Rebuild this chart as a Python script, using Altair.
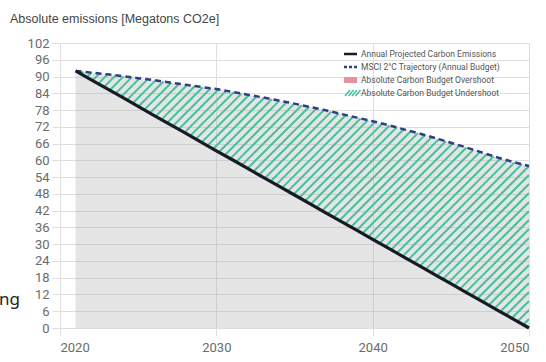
import altair as alt
import pandas as pd
import numpy as np

# ---- data ----
years = list(range(2021, 2051))
emissions = [92.0, 88.8, 85.7, 82.5, 79.3, 76.1, 73.0, 69.8, 66.6, 63.4,
             60.3, 57.1, 53.9, 50.8, 47.6, 44.4, 41.2, 38.1, 34.9, 31.7,
             28.6, 25.4, 22.2, 19.0, 15.9, 12.7, 9.5, 6.3, 3.2, 0.0]
budget = [92.0, 91.4, 90.8, 90.1, 89.4, 88.7, 87.9, 87.1, 86.3, 85.5,
          84.5, 83.5, 82.5, 81.4, 80.3, 79.1, 77.9, 76.6, 75.3, 74.0,
          72.6, 71.1, 69.6, 68.0, 66.3, 64.6, 62.8, 61.0, 59.4, 58.0]
y_ticks = list(range(0, 103, 6))
x_ticks = [2020, 2030, 2040, 2050]
legend_labels = ["Annual Projected Carbon Emissions",
                 "MSCI 2°C Trajectory (Annual Budget)",
                 "Absolute Carbon Budget Overshoot",
                 "Absolute Carbon Budget Undershoot"]
title_text = "Absolute emissions [Megatons CO2e]"
stray_text = "ng"

# ---- layout ----
W, H = 469, 285
PAD = {"left": 60, "top": 43, "right": 17, "bottom": 34}
XMIN, XMAX, YMIN, YMAX = 2020, 2050, 0, 102
px_per_year = W / (XMAX - XMIN)
px_per_unit = H / (YMAX - YMIN)

GREEN = "#43c29c"
NAVY = "#2f3f86"
BLACK = "#161b26"
PINK = "#e8909e"
GRID = "#dedede"
FONT = "Roboto"

df = pd.DataFrame({"year": years, "emissions": emissions, "budget": budget})

# ---- hatch lines (45 degrees in screen space) clipped between the curves ----
k = px_per_year / px_per_unit          # data units per year for 45 deg
spacing = 9.0 / px_per_year            # horizontal spacing of hatch lines (years)
xs = np.array(years, dtype=float)


def crossing(ys, c):
    ys = np.asarray(ys, dtype=float)
    g = k * (xs - c) - ys
    if g[0] > 0:
        return None, "above"
    if g[-1] < 0:
        return None, "below"
    for i in range(len(xs) - 1):
        if g[i] <= 0 <= g[i + 1]:
            t = 0 if g[i + 1] == g[i] else -g[i] / (g[i + 1] - g[i])
            return xs[i] + t * (xs[i + 1] - xs[i]), "ok"
    return None, "none"


hatch = []
c = 2050.0
while c > 2021 - 100 / k:
    xl, sl = crossing(emissions, c)
    xu, su = crossing(budget, c)
    if sl == "ok":
        if su == "below":
            xu = 2050.0
        if su in ("ok", "below") and xu > xl:
            hatch.append({"x": xl, "y": k * (xl - c), "x2": xu, "y2": k * (xu - c)})
    c -= spacing
hatch_df = pd.DataFrame(hatch)

xscale = alt.Scale(domain=[XMIN, XMAX], nice=False, zero=False)
yscale = alt.Scale(domain=[YMIN, YMAX], nice=False)

x_axis = alt.Axis(values=x_ticks, tickCount=len(x_ticks), format="d", title=None,
                  grid=True, gridColor=GRID, tickColor=GRID, tickSize=8,
                  domain=False, labelPadding=5, labelFont=FONT, labelOverlap=False,
                  labelFontSize=13, labelColor="#6b6b6b")
y_axis = alt.Axis(values=y_ticks, tickCount=len(y_ticks), title=None, grid=True,
                  gridColor=GRID, tickColor=GRID, tickSize=8, labelOverlap=False,
                  domain=False, labelPadding=3, labelFont=FONT,
                  labelFontSize=13, labelColor="#6b6b6b")

base = alt.Chart(df)

gray = base.mark_area(color="#a9a9a9", opacity=0.3, clip=True).encode(
    x=alt.X("year:Q", scale=xscale, axis=x_axis),
    y=alt.Y("budget:Q", scale=yscale, axis=y_axis),
    y2=alt.value(H),
)

hatch_layer = alt.Chart(hatch_df).mark_rule(color=GREEN, strokeWidth=2, clip=True).encode(
    x=alt.X("x:Q", scale=xscale, axis=x_axis), y=alt.Y("y:Q", scale=yscale, axis=y_axis),
    x2="x2:Q", y2="y2:Q",
)

budget_line = base.mark_line(color=NAVY, strokeWidth=2.5, strokeDash=[6, 4]).encode(
    x=alt.X("year:Q", scale=xscale, axis=x_axis), y=alt.Y("budget:Q", scale=yscale, axis=y_axis)
)

emis_line = base.mark_line(color=BLACK, strokeWidth=3.2).encode(
    x=alt.X("year:Q", scale=xscale, axis=x_axis), y=alt.Y("emissions:Q", scale=yscale, axis=y_axis)
)

# ---- legend (built from marks) ----
leg_x0, leg_x1, leg_tx, leg_y0, leg_dy = 284, 297, 301, 11, 13
leg = pd.DataFrame({"label": legend_labels,
                    "py": [leg_y0 + i * leg_dy for i in range(len(legend_labels))]})
leg["px0"] = leg_x0
leg["px1"] = leg_x1
leg["tx"] = leg_tx

leg_text = alt.Chart(leg).mark_text(align="left", baseline="middle", font=FONT,
                                    fontSize=8.5, color="#555555").encode(
    x=alt.X("tx:Q", scale=None), y=alt.Y("py:Q", scale=None), text="label:N")

leg_solid = alt.Chart(leg.iloc[[0]]).mark_rule(color=BLACK, strokeWidth=2.5).encode(
    x=alt.X("px0:Q", scale=None), x2="px1:Q", y=alt.Y("py:Q", scale=None))
leg_dash = alt.Chart(leg.iloc[[1]]).mark_rule(color=NAVY, strokeWidth=2.5,
                                             strokeDash=[3, 2]).encode(
    x=alt.X("px0:Q", scale=None), x2="px1:Q", y=alt.Y("py:Q", scale=None))
pink_df = leg.iloc[[2]].copy()
pink_df["pyt"] = pink_df["py"] - 3
pink_df["pyb"] = pink_df["py"] + 3
leg_pink = alt.Chart(pink_df).mark_rect(color=PINK).encode(
    x=alt.X("px0:Q", scale=None), x2="px1:Q",
    y=alt.Y("pyt:Q", scale=None), y2="pyb:Q")

hrow = leg.iloc[3]
hl = []
for j in range(4):
    hx = leg_x0 + 1 + j * 3.5
    hl.append({"hx": hx, "hy": hrow["py"] + 3, "hx2": hx + 5, "hy2": hrow["py"] - 3})
leg_hatch = alt.Chart(pd.DataFrame(hl)).mark_rule(color=GREEN, strokeWidth=1.5).encode(
    x=alt.X("hx:Q", scale=None), x2="hx2:Q", y=alt.Y("hy:Q", scale=None), y2="hy2:Q")

# ---- texts ----
txt = pd.DataFrame({"t": [title_text, stray_text], "tx": [-50, -61], "ty": [-20, 262]})
title_layer = alt.Chart(txt.iloc[[0]]).mark_text(
    align="left", baseline="alphabetic", font="Liberation Sans", fontSize=12.5,
    color="#454545").encode(x=alt.X("tx:Q", scale=None), y=alt.Y("ty:Q", scale=None), text="t:N")
stray_layer = alt.Chart(txt.iloc[[1]]).mark_text(
    align="left", baseline="alphabetic", font="Noto Sans", fontSize=17,
    color="#222222").encode(x=alt.X("tx:Q", scale=None), y=alt.Y("ty:Q", scale=None), text="t:N")

chart = alt.layer(
    gray, hatch_layer, budget_line, emis_line,
    leg_solid, leg_dash, leg_pink, leg_hatch, leg_text,
    title_layer, stray_layer,
).properties(
    width=W, height=H,
    autosize=alt.AutoSizeParams(type="none"),
    padding=PAD,
).configure_view(stroke=None)

chart.save("out.html", embed_options={"renderer": "svg", "actions": False})
